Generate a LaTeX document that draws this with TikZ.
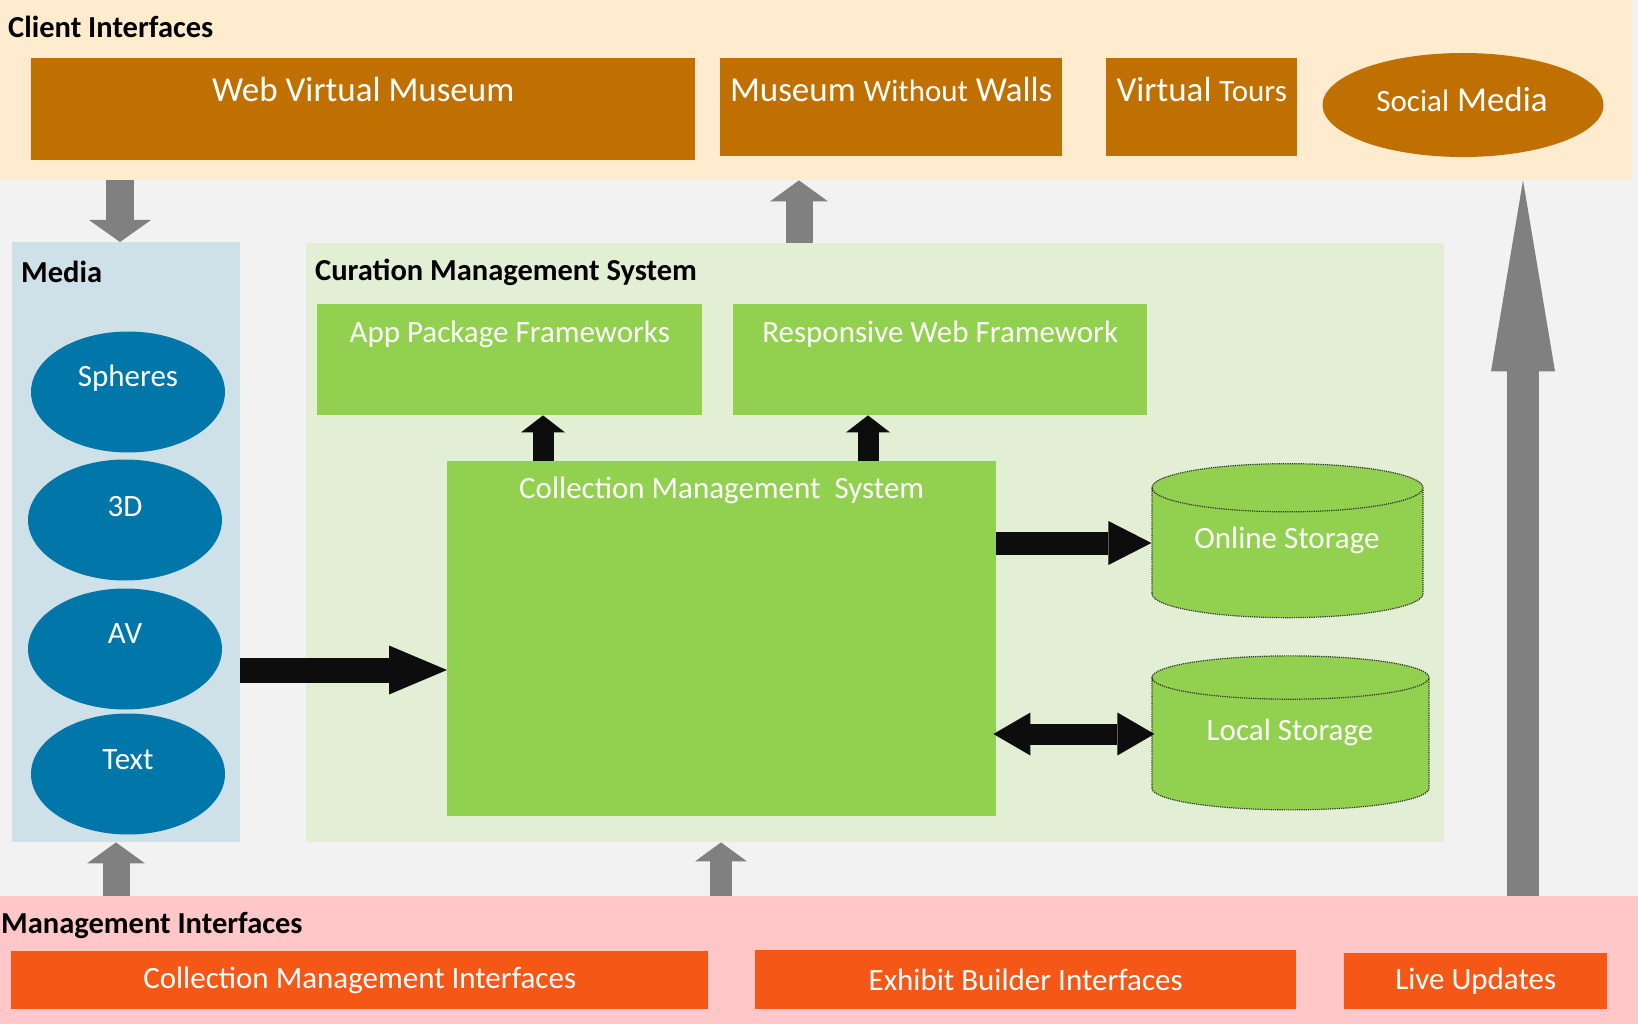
\documentclass[tikz,border=0pt]{standalone}
\usepackage{fontspec}
\setmainfont{Carlito}
\usepackage{tikz}
\usetikzlibrary{arrows.meta,calc,shapes.geometric}
\definecolor{bgGray}{HTML}{F2F2F2}
\definecolor{clientBand}{HTML}{FFEBCD}
\definecolor{clientBox}{HTML}{C07000}
\definecolor{mediaPanel}{HTML}{CEE1E8}
\definecolor{mediaBlue}{HTML}{0077A8}
\definecolor{curPanel}{HTML}{E2EFD5}
\definecolor{curGreen}{HTML}{92D050}
\definecolor{mgmtBand}{HTML}{FFC7C7}
\definecolor{mgmtBox}{HTML}{F55716}
\definecolor{arrowGray}{HTML}{808080}
\definecolor{ink}{HTML}{0D0D0D}

\begin{document}
\begin{tikzpicture}[x=1pt,y=-1pt,
  zone/.style={rectangle,inner sep=0pt,anchor=north west},
  heading/.style={anchor=west,inner sep=0pt,font=\bfseries\fontsize{30.5}{36}\selectfont},
  bigtxt/.style={text=white,inner sep=0pt,font=\fontsize{35}{42}\selectfont},
  lbl/.style={text=white,inner sep=0pt,font=\fontsize{31}{37}\selectfont},
  medium/.style={ellipse,fill=mediaBlue,minimum width=194pt,minimum height=121pt,inner sep=0pt},
  store/.style={cylinder,shape border rotate=90,aspect=0.26,fill=curGreen,draw=black!80,densely dotted,line width=1.2pt,minimum width=271pt,minimum height=154pt,inner sep=0pt,font=\fontsize{31}{37}\selectfont},
  feed/.style n args={3}{draw=arrowGray,line width=#1,-{Triangle[length=#2,width=#3,line width=0pt]}},
  push/.style n args={3}{draw=ink,line width=#1,-{Triangle[length=#2,width=#3,line width=0pt]}},
  duplex/.style={draw=ink,line width=21pt,{Triangle[length=37pt,width=43pt,line width=0pt]}-{Triangle[length=37pt,width=43pt,line width=0pt]}}]
\useasboundingbox[fill=bgGray] (0,0) rectangle (1638,1024);
% client interfaces
\node[zone,fill=clientBand,minimum width=1632pt,minimum height=180pt] (client) at (0,0) {};
\node[heading] (clientT) at (8,27) {Client Interfaces};
\node[zone,fill=clientBox,minimum width=664pt,minimum height=102pt] (wvm) at (31,58) {};
\node[bigtxt] (wvmT) at ($(wvm.north)+(0,31)$) {Web Virtual Museum};
\node[zone,fill=clientBox,minimum width=342pt,minimum height=98pt] (mww) at (720,58) {};
\node[bigtxt] (mwwT) at ($(mww.north)+(0,31)$) {Museum {\fontsize{31}{37}\selectfont Without} Walls};
\node[zone,fill=clientBox,minimum width=191pt,minimum height=98pt] (vt) at (1106,58) {};
\node[bigtxt] (vtT) at ($(vt.north)+(0,31)$) {Virtual {\fontsize{31}{37}\selectfont Tours}};
\node[ellipse,fill=clientBox,minimum width=281pt,minimum height=104pt,inner sep=0pt] (sm) at (1463,105) {};
\node[bigtxt] (smT) at (1462,99) {{\fontsize{31}{37}\selectfont Social} Media};
% media
\node[zone,fill=mediaPanel,minimum width=228pt,minimum height=600pt] (media) at (12,242) {};
\node[heading] (mediaT) at (21,272) {Media};
\node[medium] (sph) at (128,392) {};
\node[lbl] (sphT) at ($(sph)+(0,-14)$) {Spheres};
\node[medium] (thd) at (125,520) {};
\node[lbl] (thdT) at ($(thd)+(0,-13)$) {3D};
\node[medium] (av) at (125,649) {};
\node[lbl] (avT) at ($(av)+(0,-15)$) {AV};
\node[medium] (txt) at (128,774) {};
\node[lbl] (txtT) at ($(txt)+(0,-14)$) {Text};
% curation management system
\node[zone,fill=curPanel,minimum width=1138pt,minimum height=599pt] (cur) at (306,243) {};
\node[heading] (curT) at (315,272) {Curation Management System};
\node[zone,fill=curGreen,minimum width=385pt,minimum height=111pt] (app) at (317,304) {};
\node[lbl] (appT) at ($(app.north)+(0,30)$) {App Package Frameworks};
\node[zone,fill=curGreen,minimum width=414pt,minimum height=111pt] (rwf) at (733,304) {};
\node[lbl] (rwfT) at ($(rwf.north)+(0,30)$) {Responsive Web Framework};
\node[zone,fill=curGreen,minimum width=549pt,minimum height=355pt] (cms) at (447,461) {};
\node[lbl] (cmsT) at ($(cms.north)+(0,29)$) {Collection Management\ \ System};
\node[store] (online) at (1287.5,553) {\phantom{Online Storage}};
\node[lbl] (onlineT) at (1287,540) {Online Storage};
\node[store,minimum width=277pt] (local) at (1290.5,744) {\phantom{Local Storage}};
\node[lbl] (localT) at (1290,732) {Local Storage};
% management interfaces
\node[zone,fill=mgmtBand,minimum width=1638pt,minimum height=128pt] (mgmt) at (0,896) {};
\node[heading] (mgmtT) at (1,925) {Management Interfaces};
\node[zone,lbl,fill=mgmtBox,minimum width=697pt,minimum height=58pt] (cmi) at (11,951) {Collection Management Interfaces};
\node[zone,lbl,fill=mgmtBox,minimum width=541pt,minimum height=59pt] (ebi) at (755,950) {Exhibit Builder Interfaces};
\node[zone,lbl,fill=mgmtBox,minimum width=263pt,minimum height=56pt] (lu) at (1344,953) {Live Updates};
% gray flows between tiers
\coordinate (wvmCol) at (120,0);
\coordinate (mwwCol) at (799,0);
\coordinate (liveCol) at (1523,0);
\coordinate (cmiCol) at (116,0);
\coordinate (ebiCol) at (721,0);
\draw[feed={28pt}{22pt}{62pt}] (client.south -| wvmCol) -- (media.north -| wvmCol);
\draw[feed={27pt}{21pt}{58pt}] (cur.north -| mwwCol) -- (client.south -| mwwCol);
\draw[feed={32pt}{191pt}{64pt}] (mgmt.north -| liveCol) -- (client.south -| liveCol);
\draw[feed={27pt}{21pt}{58pt}] (mgmt.north -| cmiCol) -- (media.south -| cmiCol);
\draw[feed={22pt}{19pt}{52pt}] (mgmt.north -| ebiCol) -- (cur.south -| ebiCol);
% black flows inside
\coordinate (appCol) at (543,0);
\coordinate (rwfCol) at (868,0);
\coordinate (avRow) at (0,670);
\coordinate (onRow) at (0,543);
\coordinate (locRow) at (0,734);
\draw[push={21pt}{17pt}{44pt}] (cms.north -| appCol) -- (app.south -| appCol);
\draw[push={21pt}{17pt}{44pt}] (cms.north -| rwfCol) -- (rwf.south -| rwfCol);
\draw[push={25pt}{58pt}{49pt}] (media.east |- avRow) -- (cms.west |- avRow);
\draw[push={23pt}{43pt}{44pt}] (cms.east |- onRow) -- (online.west |- onRow);
\draw[duplex,shorten <=-3pt,shorten >=-3pt] (cms.east |- locRow) -- (local.west |- locRow);
\end{tikzpicture}
\end{document}
